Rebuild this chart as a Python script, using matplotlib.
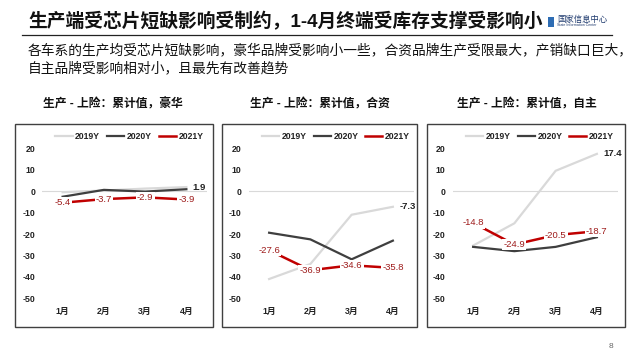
import matplotlib
matplotlib.use("Agg")
import matplotlib.pyplot as plt
from matplotlib.patches import Rectangle

plt.rcParams['font.family'] = ['Liberation Sans', 'Noto Sans CJK SC', 'DejaVu Sans']

# ---------------- data ----------------
months = ["1月", "2月", "3月", "4月"]
series_names = ["2019Y", "2020Y", "2021Y"]

lux_2019 = [-0.5, 0.3, 1.2, 1.9]
lux_2020 = [-2.6, 0.6, -0.2, 0.9]
lux_2021 = [-5.4, -3.7, -2.9, -3.9]

jv_2019 = [-41.0, -34.0, -11.0, -7.3]
jv_2020 = [-19.4, -22.5, -31.8, -23.1]
jv_2021 = [-27.6, -36.9, -34.6, -35.8]

dom_2019 = [-25.4, -15.0, 9.5, 17.4]
dom_2020 = [-26.0, -28.0, -26.0, -21.5]
dom_2021 = [-14.8, -24.9, -20.5, -18.7]

panel_titles = ["生产 - 上险：累计值，豪华", "生产 - 上险：累计值，合资", "生产 - 上险：累计值，自主"]
yticks = [20, 10, 0, -10, -20, -30, -40, -50]

title = "生产端受芯片短缺影响受制约，1-4月终端受库存支撑受影响小"
subtitle1 = "各车系的生产均受芯片短缺影响，豪华品牌受影响小一些，合资品牌生产受限最大，产销缺口巨大，"
subtitle2 = "自主品牌受影响相对小，且最先有改善趋势"
page_no = "8"

panels = [
    (lux_2019, lux_2020, lux_2021),
    (jv_2019, jv_2020, jv_2021),
    (dom_2019, dom_2020, dom_2021),
]

# ---------------- style ----------------
W, H = 640, 360
c2019 = "#D9D9D9"
c2020 = "#3F3F3F"
c2021 = "#C00000"
clabel_red = "#9E1B1B"

fig = plt.figure(figsize=(W / 100, H / 100), dpi=100)

def fx(px):
    return px / W

def fy(py):
    return 1 - py / H

# headline
fig.text(fx(28), fy(22), title, fontsize=13.5, fontweight='bold', color='#111111',
         ha='left', va='center')
fig.add_artist(plt.Line2D([fx(22), fx(612)], [fy(35), fy(35)], color='#222222', lw=0.9))
# logo
fig.add_artist(Rectangle((fx(548), fy(27)), 6 / W, 10 / H, facecolor='#2E6DB4',
                         edgecolor='none', transform=fig.transFigure))
fig.text(fx(557), fy(19), "国家信息中心", fontsize=6, color='#1F3A6E', ha='left', va='center',
         family=['Noto Sans CJK SC'])
fig.text(fx(557), fy(25.5), "State Information Center", fontsize=2.6, color='#1F3A6E',
         ha='left', va='center')

fig.text(fx(28), fy(50), subtitle1, fontsize=9.9, color='#111111', ha='left', va='center',
         fontweight='medium')
fig.text(fx(28), fy(68), subtitle2, fontsize=9.9, color='#111111', ha='left', va='center',
         fontweight='medium')
fig.text(fx(611), fy(347), page_no, fontsize=6, color='#666666', ha='center', va='center')

boxes = [(15, 213), (222, 417), (427, 625)]
ax_lefts = [42, 248.5, 452.5]
ax_w = 165
ax_top, ax_bot = 148.3, 298.3
title_cx = [113, 320, 527]

for i, (d19, d20, d21) in enumerate(panels):
    bx0, bx1 = boxes[i]
    fig.add_artist(Rectangle((fx(bx0), fy(327)), (bx1 - bx0) / W, (327 - 124) / H,
                             facecolor='none', edgecolor='#404040', lw=1.0,
                             transform=fig.transFigure))
    fig.text(fx(title_cx[i]), fy(104), panel_titles[i], fontsize=8.5, fontweight='bold',
             color='#111111', ha='center', va='center')

    ax = fig.add_axes([fx(ax_lefts[i]), fy(ax_bot), ax_w / W, (ax_bot - ax_top) / H])
    ax.set_facecolor('none')
    x = list(range(len(months)))
    ax.axhline(0, color='#D9D9D9', lw=0.8, zorder=1)
    ax.plot(x, d19, color=c2019, lw=1.6, label=series_names[0], zorder=2)
    ax.plot(x, d20, color=c2020, lw=1.6, label=series_names[1], zorder=3)
    ax.plot(x, d21, color=c2021, lw=1.8, label=series_names[2], zorder=4)

    for xi, v in zip(x, d21):
        ax.text(xi, v, f"{v:.1f}", fontsize=6.8, color=clabel_red, ha='center', va='center',
                zorder=6, bbox=dict(boxstyle='square,pad=0.12', facecolor='white',
                                    edgecolor='none'))
    ax.annotate(f"{d19[-1]:.1f}", xy=(x[-1], d19[-1]), xytext=(4.5, 0),
                textcoords='offset points', fontsize=6.8, fontweight='bold', color='#222222',
                ha='left', va='center', zorder=6)

    ax.set_xlim(-0.5, 3.5)
    ax.set_ylim(-50, 20)
    ax.set_yticks(yticks)
    ax.set_yticklabels([str(t) for t in yticks])
    ax.set_xticks(x)
    ax.set_xticklabels(months)
    ax.tick_params(axis='both', length=0, labelsize=6.3, colors='#222222')
    ax.tick_params(axis='y', pad=5)
    ax.tick_params(axis='x', pad=6)
    for lab in ax.get_xticklabels() + ax.get_yticklabels():
        lab.set_fontweight('bold')
    for s in ax.spines.values():
        s.set_visible(False)

    leg = ax.legend(loc='center', bbox_to_anchor=(0.53, 1.078), ncol=3, frameon=False,
                    fontsize=6.2, handlelength=2.0, handletextpad=0.3, columnspacing=0.8,
                    borderaxespad=0, borderpad=0)
    for t in leg.get_texts():
        t.set_fontweight('bold')
        t.set_color('#222222')

fig.savefig("out.png", dpi=100)
